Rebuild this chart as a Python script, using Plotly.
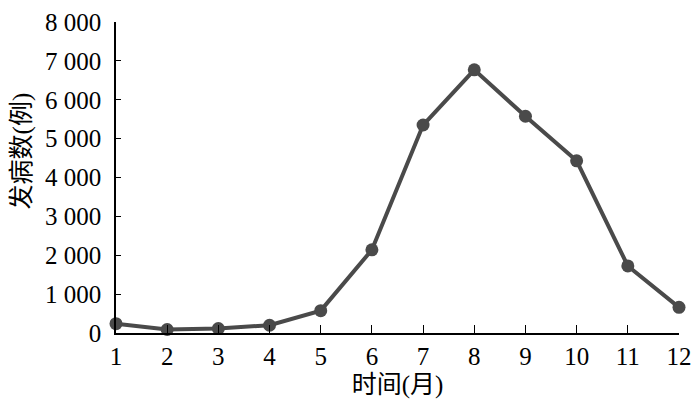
import plotly.graph_objects as go

# 月份与发病数
months = [1, 2, 3, 4, 5, 6, 7, 8, 9, 10, 11, 12]
cases = [240, 90, 115, 200, 575, 2140, 5350, 6770, 5575, 4430, 1725, 660]
y_ticks = [0, 1000, 2000, 3000, 4000, 5000, 6000, 7000, 8000]

fig = go.Figure()
fig.add_trace(go.Scatter(
    x=months, y=cases, mode='lines+markers',
    line=dict(color='#4a4a4a', width=4),
    marker=dict(color='#4a4a4a', size=13),
    cliponaxis=False,
))

# 页面 body 默认有 8px 边距，图缩小到 684x391 以免出现滚动条
font_family = 'Liberation Serif, Noto Sans CJK SC'
fig.update_layout(
    width=684, height=391,
    margin=dict(l=108, r=13, t=14, b=66, autoexpand=False),
    paper_bgcolor='white', plot_bgcolor='white',
    showlegend=False,
    separators='. ',
    font=dict(family=font_family, size=25, color='black'),
)
fig.update_xaxes(
    range=[1, 12], tickvals=months, ticks='inside', ticklen=8,
    tickcolor='black', showline=True, linecolor='black', linewidth=1.5,
    showgrid=False, zeroline=False, ticklabelstandoff=0, automargin=False,
    ticklabeloverflow='allow', tickfont=dict(family='Liberation Serif'),
    title=dict(text='时间(月)', font=dict(size=25), standoff=8),
)
fig.update_yaxes(
    range=[0, 8000], tickvals=y_ticks, tickformat=',d', ticks='inside',
    ticklen=5, tickcolor='black', showline=True, linecolor='black',
    linewidth=1.5, showgrid=False, zeroline=False, ticklabelstandoff=8,
    automargin=False, ticklabeloverflow='allow',
    tickfont=dict(family='Liberation Serif'),
)
# 纵轴标题
fig.add_annotation(
    text='发病数(例)', textangle=-90, showarrow=False,
    xref='paper', yref='paper', x=0, y=0.584, xshift=-94,
    xanchor='center', yanchor='middle', font=dict(size=25),
)

fig.write_html("out.html")
